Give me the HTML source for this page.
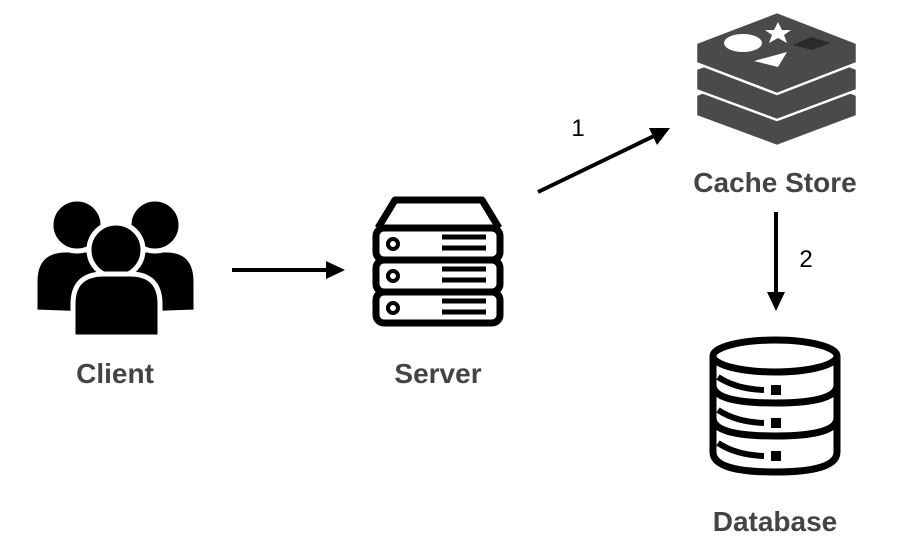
<!DOCTYPE html>
<html><head><style>
html,body{margin:0;padding:0;background:#fff;}
svg{display:block}
text{font-family:"Liberation Sans","Noto Sans CJK KR",sans-serif;font-weight:bold;fill:#444;}
</style></head><body>
<svg width="898" height="542" viewBox="0 0 898 542" xmlns="http://www.w3.org/2000/svg">
<rect width="898" height="542" fill="#fff"/>
<!-- Client -->
<g fill="#000" stroke="#fff" stroke-width="5">
  <path d="M35,312 L35,282 Q35,250 66,250 L90,250 Q120,250 120,282 L120,315 Z"/>
  <path d="M110,315 L110,282 Q110,250 142,250 L166,250 Q196,250 196,282 L196,312 Z"/>
  <circle cx="77" cy="225" r="26"/>
  <circle cx="155" cy="225" r="26"/>
  <circle cx="116" cy="250" r="27"/>
  <path d="M73,337 L73,304 Q73,274 104,274 L130,274 Q160,274 160,304 L160,337 Z"/>
</g>
<text x="115" y="383" font-size="28" text-anchor="middle">Client</text>
<!-- arrow client->server -->
<line x1="232" y1="270" x2="330" y2="270" stroke="#000" stroke-width="4"/>
<polygon points="345,270 326,261 326,279" fill="#000"/>
<!-- Server -->
<g fill="none" stroke="#000" stroke-width="7" stroke-linejoin="round">
  <path d="M378,228 L395,200 L482,200 L499,228"/>
  <rect x="376" y="228" width="124" height="32" rx="8"/>
  <rect x="376" y="260" width="124" height="32" rx="8"/>
  <rect x="376" y="292" width="124" height="31" rx="8"/>
  <g stroke-width="4"><circle cx="393" cy="244" r="5"/>
  <circle cx="393" cy="276" r="5"/>
  <circle cx="393" cy="308" r="5"/></g>
  <path d="M442,237 H486 M442,248 H486 M442,269 H486 M442,280 H486 M442,301 H486 M442,312 H486" stroke-width="5"/>
</g>
<text x="438" y="383" font-size="28" text-anchor="middle">Server</text>
<!-- arrow 1 -->
<line x1="538" y1="192" x2="656" y2="135" stroke="#000" stroke-width="4"/>
<polygon points="670,128 649,128 657,145" fill="#000"/>
<text x="578" y="136" font-size="24" text-anchor="middle" style="font-weight:normal;fill:#000">1</text>
<!-- Cache store -->
<g fill="#4a4a4a" stroke="#fff" stroke-width="2.5" stroke-linejoin="round">
  <path d="M696,95 L777,64 L857,95 L857,116 L777,146 L696,116 Z"/>
  <path d="M696,69 L777,38 L857,69 L857,90 L777,120 L696,90 Z"/>
  <path d="M696,43 L777,12 L857,43 L857,63 L777,94 L696,63 Z"/>
</g>
<ellipse cx="743" cy="43" rx="19" ry="9" fill="#fff"/>
<polygon points="778,22 782,30 791,30 784,35 787,43 778,38 769,43 772,35 765,30 774,30" fill="#fff"/>
<polygon points="754,61 787,52 778,67" fill="#fff"/>
<polygon points="793,45 811,37 831,43 812,50" fill="#2a2a2a"/>
<text x="775" y="192" font-size="28" text-anchor="middle">Cache Store</text>
<!-- arrow 2 -->
<line x1="776" y1="212" x2="776" y2="296" stroke="#000" stroke-width="4"/>
<polygon points="776,311 767,292 785,292" fill="#000"/>
<text x="806" y="267" font-size="24" text-anchor="middle" style="font-weight:normal;fill:#000">2</text>
<!-- Database -->
<g fill="none" stroke="#000" stroke-width="7">
  <ellipse cx="775" cy="356" rx="62" ry="16"/>
  <path d="M713,356 V452 Q713,472 775,472 Q837,472 837,452 V356"/>
  <path d="M713,385 Q713,403 775,403 Q837,403 837,385"/>
  <path d="M713,418 Q713,436 775,436 Q837,436 837,418"/>
  <path d="M718,377 Q736,389 764,390 M718,410 Q736,422 764,423 M718,443 Q736,455 764,456" stroke-width="6"/>
</g>
<rect x="771" y="385" width="10" height="10" fill="#000"/>
<rect x="771" y="418" width="10" height="10" fill="#000"/>
<rect x="771" y="451" width="10" height="10" fill="#000"/>
<text x="775" y="531" font-size="28" text-anchor="middle">Database</text>
</svg>
</body></html>
